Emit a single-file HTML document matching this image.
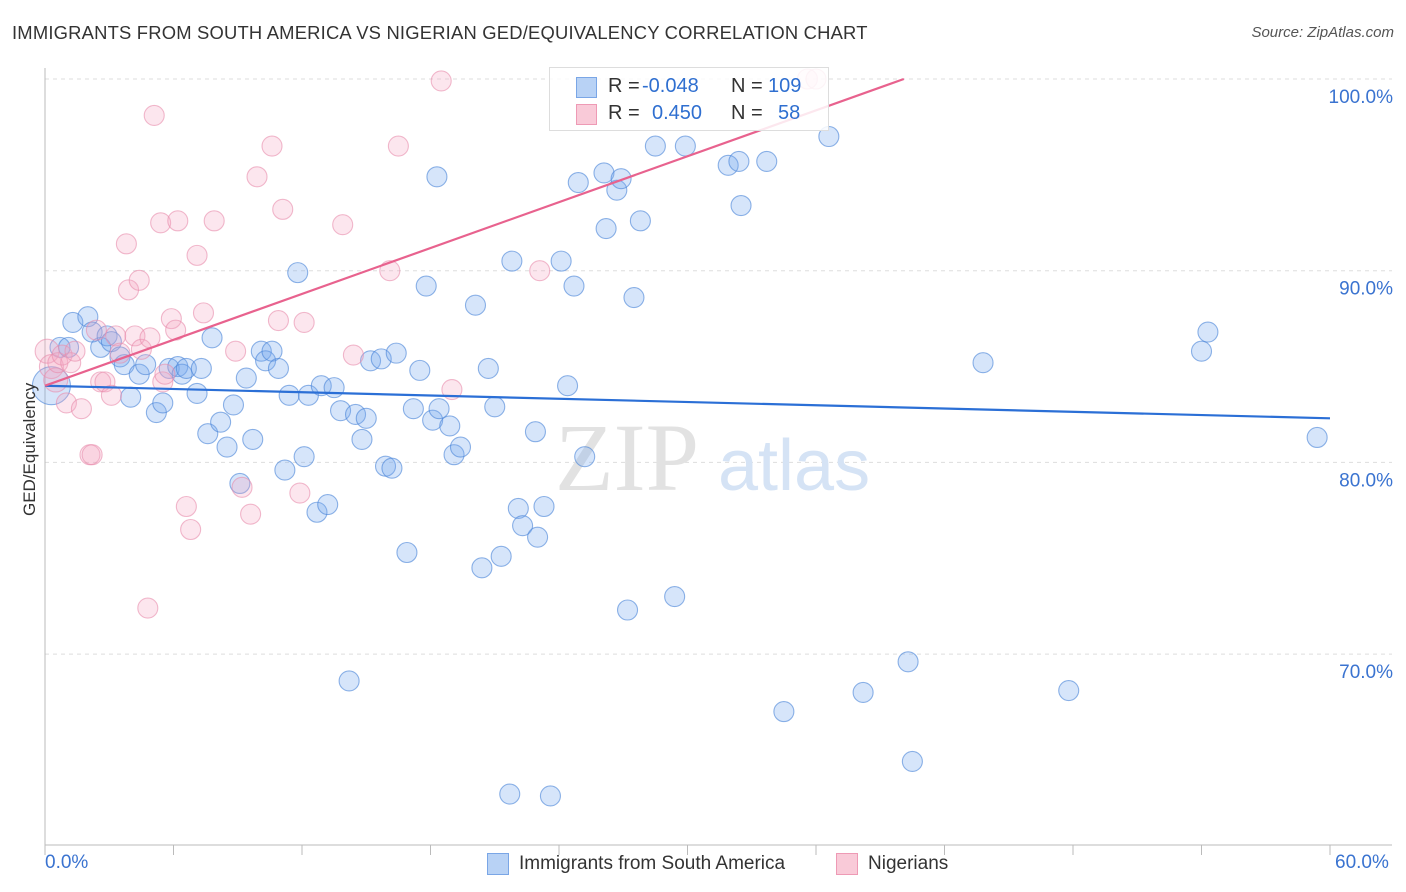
<!DOCTYPE html>
<html><head><meta charset="utf-8">
<style>
body{margin:0;background:#fff;font-family:"Liberation Sans",sans-serif;}
#wrap{position:relative;width:1406px;height:892px;overflow:hidden;}
.t{position:absolute;white-space:nowrap;}
</style></head>
<body>
<div id="wrap">
<div class="t" style="left:12px;top:22px;font-size:18.4px;color:#333;letter-spacing:0.2px">IMMIGRANTS FROM SOUTH AMERICA VS NIGERIAN GED/EQUIVALENCY CORRELATION CHART</div>
<div class="t" style="right:12px;top:24px;font-size:15px;color:#555;font-style:italic">Source: ZipAtlas.com</div>
<svg id="svg" width="1406" height="892" style="position:absolute;left:0;top:0"></svg>
</div>
<script>
const blueX=[0.7,1.3,2.0,1.1,0.3,2.6,2.2,2.9,3.1,3.5,3.7,4.0,4.4,4.7,5.2,5.5,5.8,6.2,6.4,6.6,7.1,7.3,7.6,7.8,8.2,8.5,8.8,9.1,9.4,9.7,10.1,10.3,10.6,10.9,11.2,11.4,11.8,12.1,12.3,12.7,12.9,13.2,13.5,13.8,14.2,14.5,14.8,15.0,15.2,15.7,15.9,16.2,16.4,16.9,17.2,17.5,17.8,18.1,18.3,18.4,18.9,19.1,19.4,20.1,20.4,20.7,21.0,21.3,21.7,21.8,22.1,22.3,22.9,23.0,23.3,23.6,24.1,24.4,24.7,24.9,25.2,26.1,26.2,26.7,26.9,27.2,27.5,27.8,28.5,29.4,29.9,31.9,32.4,32.5,33.7,34.5,36.6,38.2,40.3,40.5,43.8,47.8,54.0,54.3,59.4];
const blueY=[86.0,87.3,87.6,86.0,84.0,86.0,86.8,86.6,86.3,85.5,85.1,83.4,84.6,85.1,82.6,83.1,84.9,85.0,84.6,84.9,83.6,84.9,81.5,86.5,82.1,80.8,83.0,78.9,84.4,81.2,85.8,85.3,85.8,84.9,79.6,83.5,89.9,80.3,83.5,77.4,84.0,77.8,83.9,82.7,68.6,82.5,81.2,82.3,85.3,85.4,79.8,79.7,85.7,75.3,82.8,84.8,89.2,82.2,94.9,82.8,81.9,80.4,80.8,88.2,74.5,84.9,82.9,75.1,62.7,90.5,77.6,76.7,81.6,76.1,77.7,62.6,90.5,84.0,89.2,94.6,80.3,95.1,92.2,94.2,94.8,72.3,88.6,92.6,96.5,73.0,96.5,95.5,95.7,93.4,95.7,67.0,97.0,68.0,69.6,64.4,85.2,68.1,85.8,86.8,81.3];
const pinkX=[0.1,0.3,0.5,0.6,0.8,1.0,1.2,1.4,1.7,2.1,2.2,2.4,2.6,2.8,3.1,3.3,3.5,3.8,3.9,4.2,4.4,4.5,4.8,4.9,5.1,5.4,5.5,5.6,5.9,6.1,6.2,6.6,6.8,7.1,7.4,7.9,8.9,9.2,9.6,9.9,10.6,10.9,11.1,11.9,12.1,13.9,14.4,16.1,16.5,18.5,19.0,23.1,35.6,36.0];
const pinkY=[85.8,85.0,84.3,85.2,85.6,83.1,85.2,85.8,82.8,80.4,80.4,86.9,84.2,84.2,83.5,86.6,85.7,91.4,89.0,86.6,89.5,85.9,72.4,86.5,98.1,92.5,84.2,84.6,87.5,86.9,92.6,77.7,76.5,90.8,87.8,92.6,85.8,78.7,77.3,94.9,96.5,87.4,93.2,78.4,87.3,92.4,85.6,90.0,96.5,99.9,83.8,90.0,100.0,100.0];
const blueTrendX=[0,60], blueTrendY=[84.0,82.3];
const pinkTrendX=[0,40.1], pinkTrendY=[84.0,100.0];
const yTicks=[100,90,80,70];
const yTickLabels=["100.0%","90.0%","80.0%","70.0%"];

const X0=45,X1=1330,Y100=79,PX10=191.7,BOTTOM=845;
const sx=v=>X0+(v/60)*(X1-X0);
const sy=v=>Y100+(100-v)/10*PX10;
const svg=document.getElementById('svg');
const NS='http://www.w3.org/2000/svg';
function mk(tag,at){const e=document.createElementNS(NS,tag);for(const k in at)e.setAttribute(k,at[k]);svg.appendChild(e);return e;}

yTicks.forEach((v,i)=>{
  const g=mk('line',{x1:X0,x2:1392,y1:sy(v),y2:sy(v),stroke:'#ddd','stroke-dasharray':'4,4'});
  
  
  const t=mk('text',{x:1393,y:sy(v)+24,'text-anchor':'end','font-size':19,fill:'#3a73d0','font-family':'Liberation Sans, sans-serif'});
  t.textContent=yTickLabels[i];
  
  
});
const ax=mk('line',{x1:X0,x2:X0,y1:68,y2:BOTTOM,stroke:'#bbb'});


const bx=mk('line',{x1:X0,x2:1392,y1:BOTTOM,y2:BOTTOM,stroke:'#bbb'});


for(let i=0;i<=10;i++){const v=i*6;const l=mk('line',{x1:sx(v),x2:sx(v),y1:BOTTOM,y2:BOTTOM+10,stroke:'#bbb'});
  
  }

const wm1=mk('text',{x:555,y:490,'font-size':96,fill:'#e2e2e2','font-family':'Liberation Serif, serif'});wm1.textContent='ZIP';


const wm2=mk('text',{x:718,y:490,'font-size':72,fill:'#d5e3f5','font-family':'Liberation Sans, sans-serif'});wm2.textContent='atlas';



blueX.forEach((x,i)=>{const c=mk('circle',{cx:sx(x),cy:sy(blueY[i]),r:i==4?19:10,fill:'rgba(120,168,238,0.3)',stroke:'rgba(70,130,215,0.6)','stroke-width':1.1});
  
  });
pinkX.forEach((x,i)=>{const c=mk('circle',{cx:sx(x),cy:sy(pinkY[i]),r:i<3?12:10,fill:'rgba(245,165,195,0.28)',stroke:'rgba(232,140,172,0.6)','stroke-width':1.1});
  
  });

const bl=mk('line',{x1:sx(blueTrendX[0]),y1:sy(blueTrendY[0]),x2:sx(blueTrendX[1]),y2:sy(blueTrendY[1]),stroke:'#2b6fd6','stroke-width':2.2});


const pl=mk('line',{x1:sx(pinkTrendX[0]),y1:sy(pinkTrendY[0]),x2:sx(pinkTrendX[1]),y2:sy(pinkTrendY[1]),stroke:'#e8628e','stroke-width':2.2});


</script>
<div class="t" style="left:-30px;top:446px;font-size:17px;color:#333;transform:rotate(-90deg);transform-origin:center;width:120px;text-align:center">GED/Equivalency</div>
<div class="t" style="left:45px;top:852px;font-size:19px;color:#3a73d0">0.0%</div>
<div class="t" style="left:1335px;top:852px;font-size:19px;color:#3a73d0">60.0%</div>
<div style="position:absolute;left:549px;top:67px;width:278px;height:62px;border:1px solid #ddd;background:rgba(255,255,255,0.85);font-size:20px">
 <div style="position:absolute;left:26px;top:9px;width:19px;height:19px;background:#b8d2f5;border:1px solid #7aa6e6"></div>
 <div class="t" style="left:58px;top:7px;color:#333">R =</div><div class="t" style="left:92px;top:7px;color:#2f6fd0">-0.048</div>
 <div class="t" style="left:181px;top:7px;color:#333">N =</div><div class="t" style="left:218px;top:7px;color:#2f6fd0">109</div>
 <div style="position:absolute;left:26px;top:36px;width:19px;height:19px;background:#f9cad8;border:1px solid #ee9ab5"></div>
 <div class="t" style="left:58px;top:34px;color:#333">R =</div><div class="t" style="left:102px;top:34px;color:#2f6fd0">0.450</div>
 <div class="t" style="left:181px;top:34px;color:#333">N =</div><div class="t" style="left:228px;top:34px;color:#2f6fd0">58</div>
</div>
<div style="position:absolute;left:487px;top:853px;height:22px">
 <div style="position:absolute;left:0;top:0;width:20px;height:20px;background:#b8d2f5;border:1px solid #7aa6e6"></div>
 <div class="t" style="left:32px;top:0;font-size:19px;color:#333">Immigrants from South America</div>
</div>
<div style="position:absolute;left:836px;top:853px;height:22px">
 <div style="position:absolute;left:0;top:0;width:20px;height:20px;background:#f9cad8;border:1px solid #ee9ab5"></div>
 <div class="t" style="left:32px;top:0;font-size:19px;color:#333">Nigerians</div>
</div>
</body></html>
